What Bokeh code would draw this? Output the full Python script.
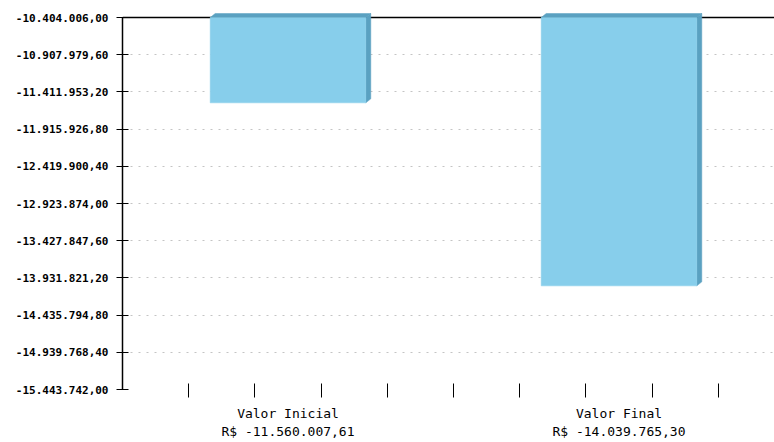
from bokeh.plotting import figure
from bokeh.models import (FixedTicker, Span, Range1d)
from bokeh.embed import file_html
from bokeh.resources import INLINE

# ---- data ----
categories = ["Valor Inicial", "Valor Final"]
values = [-11560007.61, -14039765.30]
value_labels = ["R$ -11.560.007,61", "R$ -14.039.765,30"]
bar_centers = [2.5, 7.5]
y_ticks = [-10404006.00, -10907979.60, -11411953.20, -11915926.80, -12419900.40,
           -12923874.00, -13427847.60, -13931821.20, -14435794.80, -14939768.40,
           -15443742.00]
y_tick_labels = ["-10.404.006,00", "-10.907.979,60", "-11.411.953,20", "-11.915.926,80",
                 "-12.419.900,40", "-12.923.874,00", "-13.427.847,60", "-13.931.821,20",
                 "-14.435.794,80", "-14.939.768,40", "-15.443.742,00"]
x_ticks = [1, 2, 3, 4, 5, 6, 7, 8, 9]

# ---- layout constants ----
W, H = 774, 442
LEFT = 122
TOP_LINE = 17
BOT_LINE = 389
y_top, y_bot = y_ticks[0], y_ticks[-1]
plot_px = float(BOT_LINE - TOP_LINE)
units_per_px = (y_top - y_bot) / plot_px
EXT_PX = 6
ext = EXT_PX * units_per_px
x_px = 66.2
x_end = (W - LEFT) / x_px

p = figure(width=W, height=H, output_backend="svg", toolbar_location=None,
           x_range=Range1d(0, x_end), y_range=Range1d(y_bot, y_top + ext),
           min_border_left=LEFT, min_border_right=0, min_border_top=TOP_LINE - EXT_PX,
           min_border_bottom=H - BOT_LINE)
p.outline_line_color = None
p.background_fill_color = "white"
p.border_fill_color = "white"

# grid
p.xgrid.visible = False
p.ygrid.ticker = FixedTicker(ticks=y_ticks)
p.ygrid.grid_line_color = "#c4c4c4"
p.ygrid.grid_line_dash = "2 6"
p.ygrid.grid_line_width = 1

# top baseline
p.add_layout(Span(location=y_top, dimension="width", line_color="black",
                  line_width=1.5, level="underlay"))

# y axis
ya = p.yaxis[0]
ya.ticker = FixedTicker(ticks=y_ticks)
ya.bounds = (y_bot, y_top)
ya.major_label_overrides = dict(zip(y_ticks, y_tick_labels))
ya.major_label_text_font = "DejaVu Sans Mono"
ya.major_label_text_font_size = "11px"
ya.major_label_text_font_style = "bold"
ya.major_label_text_color = "black"
ya.major_tick_in = 6
ya.major_tick_out = 6
ya.minor_tick_line_color = None
ya.major_label_standoff = 8
ya.axis_line_color = "black"
ya.axis_line_width = 1.5
ya.major_tick_line_color = "black"

# x axis: category labels on major ticks, tick marks from minor ticks
cat_text = [f"{n}\n{v}" for n, v in zip(categories, value_labels)]
xa = p.xaxis[0]
xa.ticker = FixedTicker(ticks=bar_centers, minor_ticks=x_ticks)
xa.major_label_overrides = dict(zip(bar_centers, cat_text))
xa.axis_line_color = None
xa.major_tick_line_color = None
xa.major_tick_in = 0
xa.major_tick_out = 0
xa.minor_tick_line_color = "black"
xa.minor_tick_in = 6
xa.minor_tick_out = 8
xa.major_label_standoff = 8
xa.major_label_text_font = "DejaVu Sans Mono"
xa.major_label_text_font_size = "13px"
xa.major_label_text_line_height = 1.22
xa.major_label_text_color = "black"

# bars (3D look)
bar_w = 2.35
dx = 5 / x_px
dy = 4 * units_per_px
front = "#87CEEB"
dark = "#5AA1C1"
lefts = [c - bar_w / 2 for c in bar_centers]
rights = [c + bar_w / 2 for c in bar_centers]
side_xs = [[r, r + dx, r + dx, r] for r in rights]
side_ys = [[v, v + dy, y_top + dy, y_top] for v in values]
top_xs = [[l, l + dx, r + dx, r] for l, r in zip(lefts, rights)]
top_ys = [[y_top, y_top + dy, y_top + dy, y_top] for _ in values]
p.patches(side_xs, side_ys, fill_color=dark, line_color=dark, line_width=0.5)
p.patches(top_xs, top_ys, fill_color=dark, line_color=dark, line_width=0.5)
p.quad(left=lefts, right=rights, top=[y_top] * len(values), bottom=values,
       fill_color=front, line_color=front, line_width=0.5)

open("out.html", "w").write(file_html(p, INLINE))
